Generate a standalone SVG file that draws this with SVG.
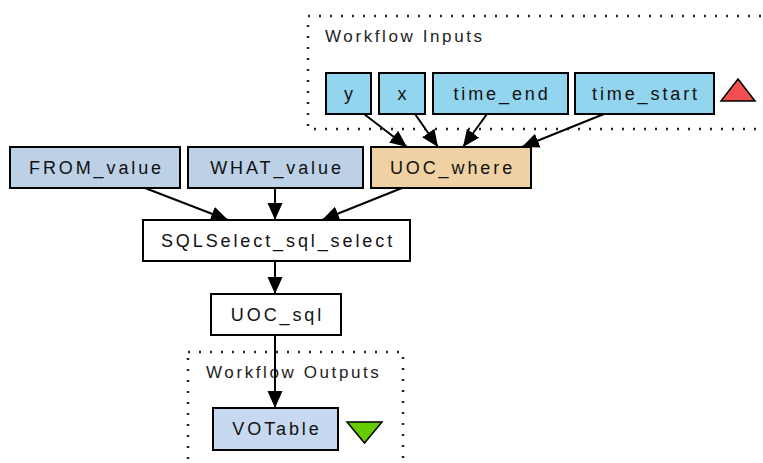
<svg xmlns="http://www.w3.org/2000/svg" width="763" height="463" viewBox="0 0 763 463">
<style>
.n rect{stroke:#000;stroke-width:2}
.t{font-family:"Liberation Sans",Arial,sans-serif;font-size:18px;letter-spacing:2.9px;fill:#111;text-anchor:middle}
.lbl{font-family:"Liberation Sans",Arial,sans-serif;font-size:17px;letter-spacing:2.6px;fill:#222}
.in{fill:#93d5ee}
.cl{fill:#bcd0e6}
.out{fill:#c6d9f0}
.box{fill:none;stroke:#222;stroke-width:2.5;stroke-dasharray:2 9}
#edges line{stroke:#000;stroke-width:2;marker-end:url(#ah)}
</style>
<defs>
<marker id="ah" markerUnits="userSpaceOnUse" markerWidth="18" markerHeight="16" refX="17" refY="8" orient="auto">
<path d="M0,0.5 L17,8 L0,15.5 z" fill="#000"/>
</marker>
</defs>
<rect class="box" x="308" y="16" width="470" height="113"/>
<text class="lbl" x="325" y="42">Workflow Inputs</text>
<rect class="box" x="188" y="352" width="215" height="130"/>
<text class="lbl" x="206" y="378">Workflow Outputs</text>
<g id="edges">
<line x1="364" y1="114" x2="407" y2="147"/>
<line x1="415" y1="114" x2="438" y2="147"/>
<line x1="487" y1="114" x2="463" y2="147"/>
<line x1="604" y1="114" x2="522" y2="147"/>
<line x1="145" y1="188" x2="228" y2="220"/>
<line x1="275" y1="188" x2="275" y2="220"/>
<line x1="402" y1="188" x2="322" y2="220"/>
<line x1="275" y1="261" x2="275" y2="294"/>
<line x1="275" y1="335" x2="275" y2="408"/>
</g>
<g id="y" class="n"><rect class="in" x="326" y="73" width="45" height="41"/><text class="t" x="350" y="100">y</text></g>
<g id="x" class="n"><rect class="in" x="379" y="73" width="46" height="41"/><text class="t" x="403.5" y="100">x</text></g>
<g id="time_end" class="n"><rect class="in" x="433" y="73" width="135" height="41"/><text class="t" x="502" y="100">time_end</text></g>
<g id="time_start" class="n"><rect class="in" x="575" y="73" width="139" height="41"/><text class="t" x="646" y="100">time_start</text></g>
<g id="inputs_marker"><polygon points="738,79 755,101 721,101" fill="#f05050" stroke="#000" stroke-width="1.5"/></g>
<g id="FROM_value" class="n"><rect class="cl" x="10" y="147" width="170" height="41"/><text class="t" x="96.5" y="174">FROM_value</text></g>
<g id="WHAT_value" class="n"><rect class="cl" x="188" y="147" width="175" height="41"/><text class="t" x="277" y="174">WHAT_value</text></g>
<g id="UOC_where" class="n"><rect fill="#f0d1a3" x="371" y="147" width="160" height="41"/><text class="t" x="452.5" y="174">UOC_where</text></g>
<g id="SQLSelect_sql_select" class="n"><rect fill="#fff" x="143" y="220" width="267" height="41"/><text class="t" x="278" y="247">SQLSelect_sql_select</text></g>
<g id="UOC_sql" class="n"><rect fill="#fff" x="211" y="294" width="130" height="41"/><text class="t" x="277.5" y="321">UOC_sql</text></g>
<g id="VOTable" class="n"><rect class="out" x="213" y="408" width="125" height="42"/><text class="t" x="277" y="435">VOTable</text></g>
<g id="outputs_marker"><polygon points="347,422 382,422 364.5,443" fill="#66cc00" stroke="#000" stroke-width="1.5"/></g>
</svg>
